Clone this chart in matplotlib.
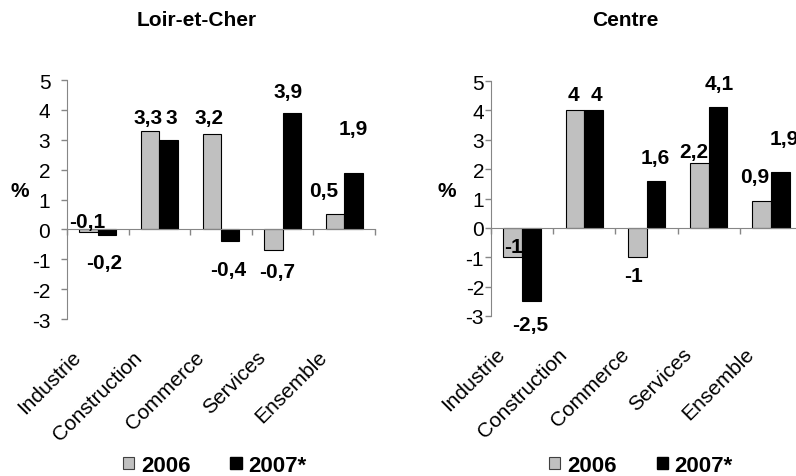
import matplotlib
matplotlib.use("Agg")
import matplotlib.pyplot as plt
import matplotlib.transforms as mtransforms
from matplotlib.patches import Patch
import numpy as np

plt.rcParams['font.family'] = ['Liberation Sans', 'DejaVu Sans']

categories = ["Industrie", "Construction", "Commerce", "Services", "Ensemble"]
series_names = ["2006", "2007*"]

loir_2006 = [-0.1, 3.3, 3.2, -0.7, 0.5]
loir_2007 = [-0.2, 3.0, -0.4, 3.9, 1.9]
centre_2006 = [-1.0, 4.0, -1.0, 2.2, 0.9]
centre_2007 = [-2.5, 4.0, 1.6, 4.1, 1.9]

yticks = [-3, -2, -1, 0, 1, 2, 3, 4, 5]

# label placement (style): vertical offset from bar end (data units), horizontal offset (px)
loir_dy = ([0.37, 0.43, 0.53, -0.7, 0.8], [-0.9, 0.73, -0.93, 0.73, 1.47])
loir_dx = ([-1.5, -2, -3, 4, -11], [-3, 3, -2, -4, 0])
centre_dy = ([0.36, 0.53, -0.62, 0.4, 0.86], [-0.78, 0.53, 0.8, 0.8, 1.14])
centre_dx = ([1, -2, -4, -6, -7], [-1, 3, -1, 1, 4])

GRAY = "#C0C0C0"
SPINE = "#868686"
FS = 15

fig = plt.figure(figsize=(7.96, 4.77), dpi=100)

def fmt(v):
    return ("%g" % v).replace(".", ",")

def draw(rect, title, title_x, v06, v07, dys, dxs, pct_xy, leg_xy, ypad):
    ax = fig.add_axes(rect)
    x = np.arange(len(categories))
    w = 0.3
    ax.bar(x - w / 2, v06, w, color=GRAY, edgecolor="black", linewidth=0.8, zorder=2)
    ax.bar(x + w / 2, v07, w, color="black", edgecolor="black", linewidth=0.8, zorder=2)
    ax.set_xlim(-0.5, len(categories) - 0.5)
    ax.set_ylim(-3, 5)
    ax.set_yticks(yticks)
    ax.set_yticklabels([str(t) for t in yticks], fontsize=FS)
    ax.set_xticks(np.arange(-0.5, len(categories), 1.0))
    ax.set_xticklabels([])
    for s in ["top", "right"]:
        ax.spines[s].set_visible(False)
    ax.spines["bottom"].set_position(("data", 0))
    ax.spines["bottom"].set_color(SPINE)
    ax.spines["left"].set_color(SPINE)
    ax.tick_params(axis="both", color=SPINE, length=4, width=1, direction="out")
    ax.tick_params(axis="y", pad=ypad)
    # category labels
    trans = mtransforms.blended_transform_factory(ax.transData, ax.transAxes)
    off = mtransforms.ScaledTranslation(-13 / 100, -28 / 100, fig.dpi_scale_trans)
    for i, c in enumerate(categories):
        ax.text(i, 0, c, transform=trans + off, rotation=45, ha="right", va="top",
                fontsize=FS)
    # data labels
    for k, (vals, xoff) in enumerate([(v06, -w / 2), (v07, w / 2)]):
        for i, v in enumerate(vals):
            o = mtransforms.ScaledTranslation(dxs[k][i] / 100, 0, fig.dpi_scale_trans)
            ax.text(i + xoff, v + dys[k][i], fmt(v), transform=ax.transData + o,
                    ha="center", va="center", fontsize=FS, fontweight="bold",
                    zorder=5, clip_on=False)
    ax.text(pct_xy[0], pct_xy[1], "%", transform=ax.transAxes, ha="center",
            va="center", fontsize=FS, fontweight="bold")
    fig.text(title_x, 1 - 21 / 477, title, ha="center", va="center",
             fontsize=FS, fontweight="bold")
    handles = [Patch(facecolor=GRAY, edgecolor="#404040", linewidth=0.8),
               Patch(facecolor="black", edgecolor="black")]
    ax.legend(handles, series_names, loc="center", bbox_to_anchor=leg_xy,
              ncol=2, frameon=False, handlelength=0.5, handleheight=0.5,
              handletextpad=0.3, columnspacing=1.8, borderpad=0.2,
              prop={"weight": "bold", "size": 16})
    return ax

draw([67 / 796, 1 - 320 / 477, 308 / 796, 239 / 477], "Loir-et-Cher", 197 / 796,
     loir_2006, loir_2007, loir_dy, loir_dx, (-0.153, 0.536), (0.48, -0.612), 8)
draw([491 / 796, 1 - 317 / 477, 311 / 796, 235 / 477], "Centre", 625 / 796,
     centre_2006, centre_2007, centre_dy, centre_dx, (-0.141, 0.536), (0.482, -0.636), 1)

fig.savefig("out.png", dpi=100)
